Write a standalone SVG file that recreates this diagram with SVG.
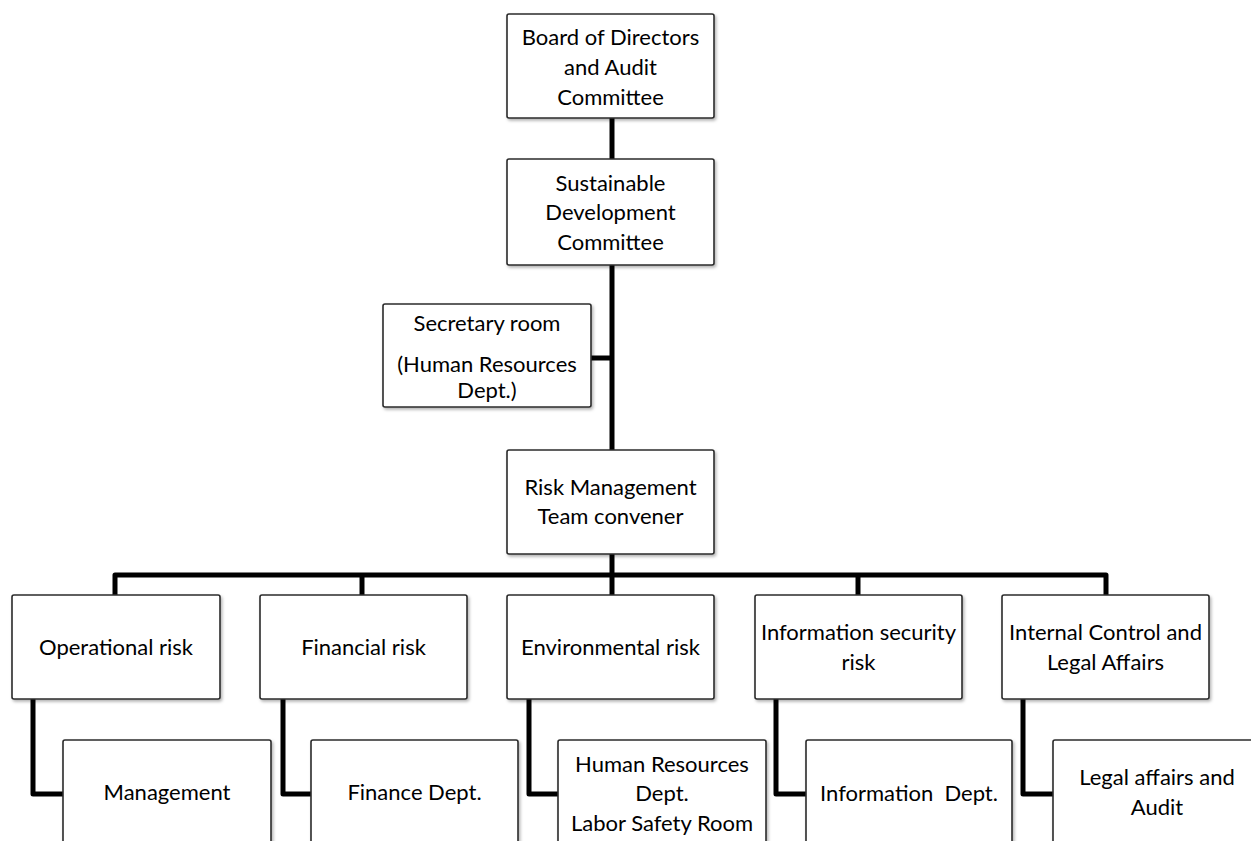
<svg xmlns="http://www.w3.org/2000/svg" width="1251" height="841" viewBox="0 0 1251 841">
<style>
.box{fill:#fff;stroke:#2b2b2b;stroke-width:1.6;filter:url(#sh)}
.t{font-family:Lato,"Liberation Sans",sans-serif;font-size:22px;fill:#000;text-anchor:middle;white-space:pre}
.c{fill:none;stroke:#000;stroke-width:5;stroke-linejoin:round;stroke-linecap:butt}
</style>
<defs>
<filter id="sh" x="-10%" y="-10%" width="125%" height="130%">
<feDropShadow dx="1.5" dy="2" stdDeviation="1.5" flood-color="#000" flood-opacity="0.3"/>
</filter>
</defs>
<rect width="1251" height="841" fill="#fff"/>
<g id="connectors">
<path class="c" d="M612,118 V159"/>
<path class="c" d="M612,265 V450"/>
<path class="c" d="M591,358 H612"/>
<path class="c" d="M612,554 V595"/>
<path class="c" d="M115,595 V575 H1106 V595"/>
<path class="c" d="M362,575 V595"/>
<path class="c" d="M858,575 V595"/>
<path class="c" d="M33,699 V794 H63"/>
<path class="c" d="M283,699 V794 H311"/>
<path class="c" d="M529,699 V794 H558"/>
<path class="c" d="M776,699 V794 H806"/>
<path class="c" d="M1023,699 V794 H1053"/>
</g>
<g id="board">
<rect class="box" x="507" y="14" width="207" height="104" rx="2"/>
<text class="t" x="610.5" y="45">Board of Directors</text>
<text class="t" x="610.5" y="75">and Audit</text>
<text class="t" x="610.5" y="105">Committee</text>
</g>
<g id="sustainable">
<rect class="box" x="507" y="159" width="207" height="106" rx="2"/>
<text class="t" x="610.5" y="191">Sustainable</text>
<text class="t" x="610.5" y="220">Development</text>
<text class="t" x="610.5" y="250">Committee</text>
</g>
<g id="secretary">
<rect class="box" x="383" y="304" width="208" height="103" rx="2"/>
<text class="t" x="487" y="331">Secretary room</text>
<text class="t" x="487" y="372">(Human Resources</text>
<text class="t" x="487" y="398">Dept.)</text>
</g>
<g id="riskteam">
<rect class="box" x="507" y="450" width="207" height="104" rx="2"/>
<text class="t" x="610.5" y="495">Risk Management</text>
<text class="t" x="610.5" y="524">Team convener</text>
</g>
<g id="operational">
<rect class="box" x="12" y="595" width="208" height="104" rx="2"/>
<text class="t" x="116" y="655">Operational risk</text>
</g>
<g id="financial">
<rect class="box" x="260" y="595" width="207" height="104" rx="2"/>
<text class="t" x="363.5" y="655">Financial risk</text>
</g>
<g id="environmental">
<rect class="box" x="507" y="595" width="207" height="104" rx="2"/>
<text class="t" x="610.5" y="655">Environmental risk</text>
</g>
<g id="infosec">
<rect class="box" x="755" y="595" width="207" height="104" rx="2"/>
<text class="t" x="858.5" y="640">Information security</text>
<text class="t" x="858.5" y="670">risk</text>
</g>
<g id="internal">
<rect class="box" x="1002" y="595" width="207" height="104" rx="2"/>
<text class="t" x="1105.5" y="640">Internal Control and</text>
<text class="t" x="1105.5" y="670">Legal Affairs</text>
</g>
<g id="management">
<rect class="box" x="63" y="740" width="208" height="130" rx="2"/>
<text class="t" x="167" y="800">Management</text>
</g>
<g id="finance">
<rect class="box" x="311" y="740" width="207" height="130" rx="2"/>
<text class="t" x="414.5" y="800">Finance Dept.</text>
</g>
<g id="hr">
<rect class="box" x="558" y="740" width="208" height="130" rx="2"/>
<text class="t" x="662" y="772">Human Resources</text>
<text class="t" x="662" y="801">Dept.</text>
<text class="t" x="662" y="831">Labor Safety Room</text>
</g>
<g id="information">
<rect class="box" x="806" y="740" width="206" height="130" rx="2"/>
<text class="t" x="909" y="801" xml:space="preserve">Information  Dept.</text>
</g>
<g id="legal">
<rect class="box" x="1053" y="740" width="208" height="130" rx="2"/>
<text class="t" x="1157" y="785">Legal affairs and</text>
<text class="t" x="1157" y="815">Audit</text>
</g>
</svg>
